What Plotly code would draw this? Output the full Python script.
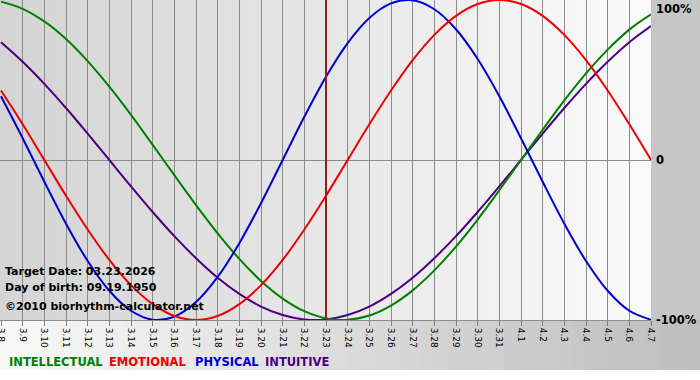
import plotly.graph_objects as go

dates = ["3.8", "3.9", "3.10", "3.11", "3.12", "3.13", "3.14", "3.15", "3.16", "3.17",
         "3.18", "3.19", "3.20", "3.21", "3.22", "3.23", "3.24", "3.25", "3.26", "3.27",
         "3.28", "3.29", "3.30", "3.31", "4.1", "4.2", "4.3", "4.4", "4.5", "4.6", "4.7"]

physical = [0.398, 0.136, -0.136, -0.398, -0.631, -0.817, -0.942, -0.998, -0.979, -0.888,
            -0.731, -0.520, -0.270, 0.0, 0.270, 0.520, 0.731, 0.888, 0.979, 0.998,
            0.942, 0.817, 0.631, 0.398, 0.136, -0.136, -0.398, -0.631, -0.817, -0.942, -0.998]

emotional = [0.434, 0.223, 0.0, -0.223, -0.434, -0.624, -0.782, -0.901, -0.975, -1.0,
             -0.975, -0.901, -0.782, -0.624, -0.434, -0.223, 0.0, 0.223, 0.434, 0.624,
             0.782, 0.901, 0.975, 1.0, 0.975, 0.901, 0.782, 0.624, 0.434, 0.223, 0.0]

intellectual = [0.990, 0.945, 0.866, 0.756, 0.618, 0.458, 0.282, 0.095, -0.095, -0.282,
                -0.458, -0.618, -0.756, -0.866, -0.945, -0.990, -0.999, -0.972, -0.910, -0.815,
                -0.690, -0.541, -0.372, -0.189, 0.0, 0.189, 0.372, 0.541, 0.690, 0.815, 0.910]

intuitive = [0.736, 0.614, 0.476, 0.325, 0.165, 0.0, -0.165, -0.325, -0.476, -0.614,
             -0.736, -0.837, -0.916, -0.969, -0.997, -0.997, -0.969, -0.916, -0.837, -0.736,
             -0.614, -0.476, -0.325, -0.165, 0.0, 0.165, 0.325, 0.476, 0.614, 0.736, 0.837]

target_index = 15
series_names = ["INTELLECTUAL", "EMOTIONAL", "PHYSICAL", "INTUITIVE"]
series_colors = ["#008000", "#ee0000", "#0000cc", "#4b0082"]
legend_px = [7, 107, 193, 263]

W, H = 700, 380
ML, MR, MT, MB = 0, 49, 0, 60
plot_w = W - ML - MR
plot_h = H - MT - MB

xs = list(range(len(dates)))
px_per_day = (plot_w - 1) / (len(dates) - 1)
x0 = -1 / px_per_day

fig = go.Figure()

for name, col, vals in [("INTUITIVE", series_colors[3], intuitive),
                        ("INTELLECTUAL", series_colors[0], intellectual),
                        ("PHYSICAL", series_colors[2], physical),
                        ("EMOTIONAL", series_colors[1], emotional)]:
    fig.add_trace(go.Scatter(x=xs, y=vals, mode="lines", name=name,
                             line=dict(color=col, width=2, shape="spline", smoothing=1.0),
                             hoverinfo="skip"))

shapes = []


def lerp(c1, c2, t):
    return "rgb(%d,%d,%d)" % tuple(round(a + (b - a) * t) for a, b in zip(c1, c2))


N = 50
for i in range(N):
    t = i / (N - 1)
    shapes.append(dict(type="rect", xref="paper", yref="paper",
                       x0=i / N, x1=(i + 1) / N + 0.001, y0=0, y1=1,
                       fillcolor=lerp((212, 212, 212), (250, 250, 250), t),
                       line=dict(width=0), layer="below"))
shapes.append(dict(type="rect", xref="paper", yref="paper", x0=1, x1=W / plot_w + 0.01,
                   y0=0, y1=1, fillcolor="#c6c6c6", line=dict(width=0), layer="below"))
band_bottom = -50 / plot_h
for i in range(N):
    t = i / (N - 1)
    shapes.append(dict(type="rect", xref="paper", yref="paper",
                       x0=i / N * W / plot_w, x1=(i + 1) / N * W / plot_w + 0.001,
                       y0=band_bottom, y1=0,
                       fillcolor=lerp((248, 248, 248), (190, 190, 190), t),
                       line=dict(width=0), layer="below"))
shapes.append(dict(type="line", xref="x", yref="paper", x0=target_index, x1=target_index,
                   y0=0, y1=1, line=dict(color="#9a1a1a", width=2), layer="above"))

annotations = []
info_lines = ["Target Date: 03.23.2026", "Day of birth: 09.19.1950",
              "©2010 biorhythm-calculator.net"]
info_y = [271, 287, 306]
for txt, yp in zip(info_lines, info_y):
    annotations.append(dict(text="<b>%s</b>" % txt, xref="paper", yref="paper",
                            x=3 / plot_w, y=1 - yp / plot_h, xanchor="left", yanchor="middle",
                            showarrow=False, font=dict(family="DejaVu Sans", size=11, color="black")))

for txt, yp, ya in [("100%", 0, "top"), ("0", 160, "middle"), ("-100%", 320, "middle")]:
    annotations.append(dict(text="<b>%s</b>" % txt, xref="paper", yref="paper",
                            x=(plot_w + 3) / plot_w, y=1 - yp / plot_h, xanchor="left",
                            yanchor=ya, showarrow=False,
                            font=dict(family="DejaVu Sans", size=11.5, color="black")))

for n, c, xp in zip(series_names, series_colors, legend_px):
    annotations.append(dict(text="<b>%s</b>" % n, xref="paper", yref="paper",
                            x=xp / plot_w, y=1 - 362 / plot_h, xanchor="left", yanchor="middle",
                            showarrow=False,
                            font=dict(family="DejaVu Sans", size=11.5, color=c)))

fig.update_layout(
    width=W, height=H,
    margin=dict(l=ML, r=MR, t=MT, b=MB, pad=0, autoexpand=False),
    paper_bgcolor="white", plot_bgcolor="rgba(0,0,0,0)",
    showlegend=False,
    shapes=shapes, annotations=annotations,
    xaxis=dict(range=[x0, len(dates) - 1], tickmode="array", tickvals=xs, ticktext=dates,
               tickangle=90, ticks="outside", ticklen=5, tickcolor="#808080",
               showgrid=True, gridcolor="#8c8c8c", gridwidth=1,
               zeroline=False, showline=True, linecolor="#8c8c8c", linewidth=1,
               tickfont=dict(family="DejaVu Sans", size=9, color="black"),
               ticklabeloverflow="allow",
               automargin=False, fixedrange=True),
    yaxis=dict(range=[-1, 1], showticklabels=False, showgrid=False,
               zeroline=True, zerolinecolor="#8c8c8c", zerolinewidth=1,
               ticks="", fixedrange=True),
)

fig.write_html("out.html", config={"displayModeBar": False},
               post_script="document.body.style.margin='0';document.body.style.overflow='hidden';")
